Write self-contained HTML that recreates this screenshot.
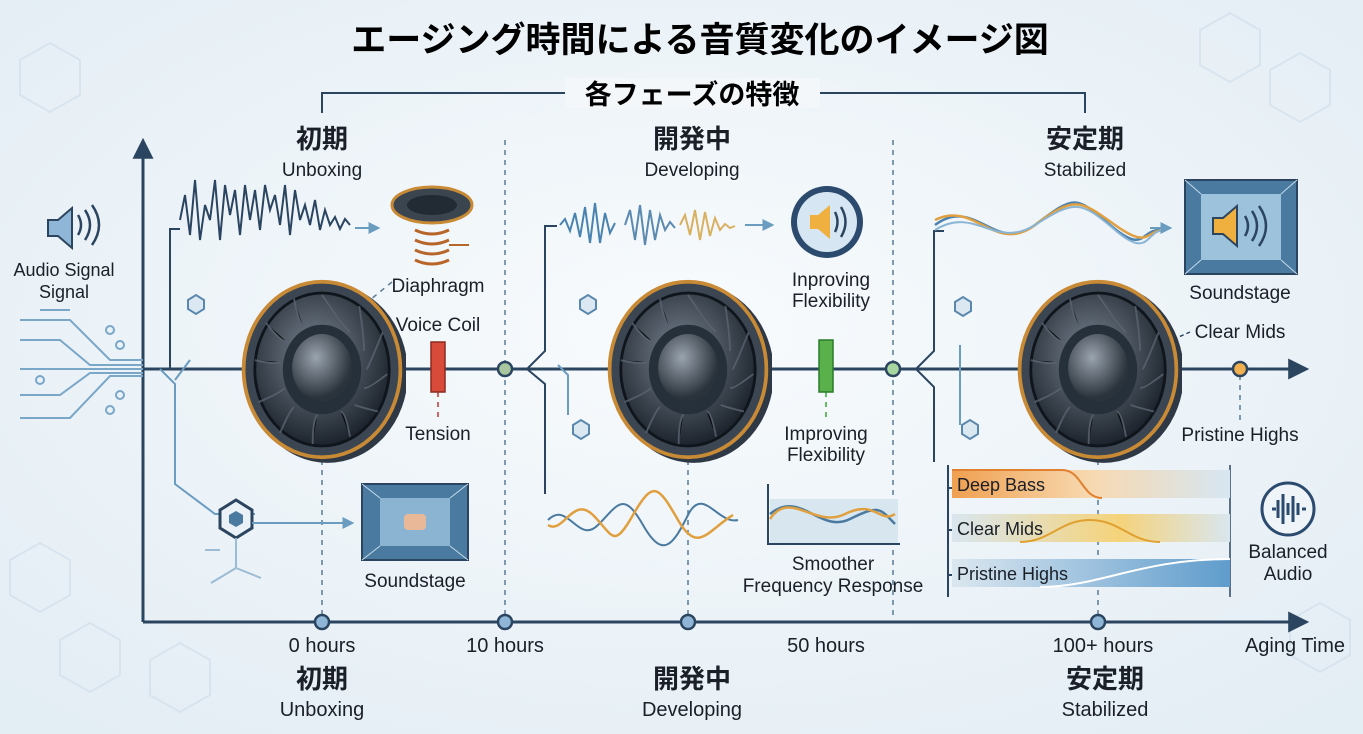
<!DOCTYPE html>
<html><head><meta charset="utf-8"><style>
html,body{margin:0;padding:0;width:1363px;height:734px;overflow:hidden;background:#eef4f8}
svg{display:block}
text{font-family:"Liberation Sans","Noto Sans CJK JP",sans-serif;fill:#1a1f28}
.j{font-weight:bold;font-size:26px}
.s{font-size:19px}
.t{font-size:19px;text-anchor:middle}
</style></head><body>
<svg width="1363" height="734" viewBox="0 0 1363 734" xmlns="http://www.w3.org/2000/svg">
<defs>
<radialGradient id="bg" cx="50%" cy="45%" r="70%"><stop offset="0" stop-color="#f8fbfd"/><stop offset="1" stop-color="#e3edf4"/></radialGradient>
<radialGradient id="cone" cx="45%" cy="40%" r="60%"><stop offset="0" stop-color="#7a8592"/><stop offset="1" stop-color="#1c232c"/></radialGradient>
<radialGradient id="cap" cx="40%" cy="35%" r="60%"><stop offset="0" stop-color="#9aa4ae"/><stop offset="1" stop-color="#2a323b"/></radialGradient>
<linearGradient id="b1" x1="0" x2="1"><stop offset="0" stop-color="#f0a050"/><stop offset=".5" stop-color="#f7d9b0"/><stop offset="1" stop-color="#d6e6f2"/></linearGradient>
<linearGradient id="b2" x1="0" x2="1"><stop offset="0" stop-color="#d9e6ef"/><stop offset=".6" stop-color="#f5d37a"/><stop offset="1" stop-color="#d9e6ef"/></linearGradient>
<linearGradient id="b3" x1="0" x2="1"><stop offset="0" stop-color="#dbe7f0"/><stop offset="1" stop-color="#5f9ccc"/></linearGradient>
<marker id="ar" viewBox="0 0 10 10" refX="8" refY="5" markerWidth="7" markerHeight="7" orient="auto"><path d="M0,0L10,5L0,10z" fill="#2b4560"/></marker>
<marker id="ar2" viewBox="0 0 10 10" refX="8" refY="5" markerWidth="6" markerHeight="6" orient="auto"><path d="M0,0L10,5L0,10z" fill="#6a9cc0"/></marker>
<symbol id="spk" viewBox="-90 -100 180 200">
<ellipse cx="6" cy="4" rx="86" ry="96" fill="#2e3945"/>
<ellipse cx="0" cy="0" rx="84" ry="94" fill="#3b4652" stroke="#c98a35" stroke-width="4"/>
<ellipse cx="0" cy="0" rx="72" ry="82" fill="url(#cone)" stroke="#0f151b" stroke-width="3"/>
<g stroke="#5a6572" stroke-width="2" opacity=".8">
<path d="M0,-80Q20,-50 30,-40M40,-68Q45,-35 45,-20M65,-40Q55,-15 48,0M70,5Q50,20 45,20M60,45Q40,40 35,38M30,72Q25,45 20,45M-10,80Q-10,55 -5,48M-45,68Q-35,45 -30,40M-68,35Q-45,25 -40,20M-72,-10Q-50,-5 -45,-8M-60,-50Q-45,-30 -38,-30M-30,-76Q-25,-50 -20,-45"/>
</g>
<ellipse cx="0" cy="0" rx="42" ry="48" fill="#26303a"/>
<ellipse cx="0" cy="-2" rx="32" ry="36" fill="url(#cap)"/>
</symbol>
</defs>
<rect width="1363" height="734" fill="url(#bg)"/>
<g fill="none" stroke="#d3e1ec" stroke-width="2" opacity=".8">
<path d="M20,60l30,-17l30,17v35l-30,17l-30,-17z M1200,30l30,-17l30,17v35l-30,17l-30,-17z M1270,70l30,-17l30,17v35l-30,17l-30,-17z M1290,620l30,-17l30,17v35l-30,17l-30,-17z M10,560l30,-17l30,17v35l-30,17l-30,-17z M60,640l30,-17l30,17v35l-30,17l-30,-17z M150,660l30,-17l30,17v35l-30,17l-30,-17z"/>
</g>
<text x="700" y="52" text-anchor="middle" style="font-weight:bold;font-size:35px;fill:#000">エージング時間による音質変化のイメージ図</text>
<path d="M322,113V93H1085V113" fill="none" stroke="#2b4560" stroke-width="2"/>
<rect x="565" y="78" width="255" height="30" fill="#f3f7fa"/>
<text x="692" y="104" text-anchor="middle" style="font-weight:bold;font-size:27px;fill:#000">各フェーズの特徴</text>
<text x="322" y="148" class="j" text-anchor="middle">初期</text><text x="322" y="176" class="t">Unboxing</text>
<text x="692" y="148" class="j" text-anchor="middle">開発中</text><text x="692" y="176" class="t">Developing</text>
<text x="1085" y="148" class="j" text-anchor="middle">安定期</text><text x="1085" y="176" class="t">Stabilized</text>
<line x1="143" y1="622" x2="143" y2="142" stroke="#2b4560" stroke-width="3" marker-end="url(#ar)"/>
<line x1="143" y1="622" x2="1305" y2="622" stroke="#2b4560" stroke-width="3" marker-end="url(#ar)"/>
<line x1="143" y1="369" x2="1305" y2="369" stroke="#2b4560" stroke-width="3" marker-end="url(#ar)"/>
<g stroke="#5a7a94" stroke-width="1.5" stroke-dasharray="5,5">
<line x1="505" y1="140" x2="505" y2="620"/><line x1="893" y1="140" x2="893" y2="620"/>
<line x1="322" y1="430" x2="322" y2="615"/><line x1="688" y1="430" x2="688" y2="615"/><line x1="1098" y1="430" x2="1098" y2="615"/>
<line x1="1240" y1="375" x2="1240" y2="420"/>
<line x1="438" y1="392" x2="438" y2="420" stroke="#c33"/><line x1="826" y1="392" x2="826" y2="420" stroke="#3a3"/>
<line x1="392" y1="282" x2="370" y2="300"/>
</g>
<g transform="translate(48,210)"><path d="M0,10h10l14,-12v40l-14,-12h-10z" fill="#8fb6d6" stroke="#2b4560" stroke-width="2"/><path d="M30,5q6,10 0,20M37,0q10,15 0,30M44,-5q14,20 0,40" fill="none" stroke="#2b4560" stroke-width="2.5"/></g>
<text x="64" y="276" text-anchor="middle" class="s" style="font-size:18px">Audio Signal</text>
<text x="64" y="298" text-anchor="middle" class="s" style="font-size:18px">Signal</text>
<g fill="none" stroke="#7aa6c8" stroke-width="2">
<path d="M20,320h50l40,40h33M20,340h40l30,25h53M20,369h123M20,395h40l30,-22h53M20,418h50l40,-42h33M40,310h30"/>
<circle cx="110" cy="330" r="4"/><circle cx="120" cy="345" r="4"/><circle cx="120" cy="395" r="4"/><circle cx="110" cy="410" r="4"/><circle cx="40" cy="380" r="4"/>
</g>
<path d="M170,369v-140h10" fill="none" stroke="#2b4560" stroke-width="2"/>
<path d="M180,220l5,-25l5,40l5,-55l5,60l5,-35l5,15l5,-40l5,60l5,-55l5,30l5,-25l5,45l5,-50l5,35l5,-30l5,40l5,-45l5,25l5,-15l5,30l5,-40l5,50l5,-45l5,30l5,-15l5,20l5,-25l5,30l5,-20l5,15l5,-8l5,12l5,-10l5,6" fill="none" stroke="#2b4560" stroke-width="2"/>
<line x1="355" y1="228" x2="378" y2="228" stroke="#6a9cc0" stroke-width="2" marker-end="url(#ar2)"/>
<path d="M160,369l15,15v100l40,30h40M175,380l15,-20" fill="none" stroke="#6a9cc0" stroke-width="2"/>
<path d="M188,300l8,-5l8,5v9l-8,5l-8,-5z" fill="#dbe8f2" stroke="#5a88ad" stroke-width="2"/>
<path d="M220,510l16,-10l16,10v18l-16,10l-16,-10z" fill="#eaf2f8" stroke="#2b4560" stroke-width="3"/><path d="M229,515l7,-4l7,4v8l-7,4l-7,-4z" fill="#4a7aa0"/>
<path d="M252,523h100" stroke="#6a9cc0" stroke-width="2" marker-end="url(#ar2)"/>
<path d="M236,538v30l-25,15M236,568l25,10M205,550h15" fill="none" stroke="#9bbcd4" stroke-width="2"/>
<ellipse cx="432" cy="205" rx="40" ry="18" fill="#3a4550" stroke="#c98a35" stroke-width="3"/><ellipse cx="432" cy="205" rx="25" ry="10" fill="#222a33"/>
<g fill="none" stroke="#b8652a" stroke-width="3"><path d="M415,230q17,8 34,0M415,240q17,8 34,0M415,250q17,8 34,0M415,260q17,8 34,0"/></g>
<path d="M449,245h20" stroke="#b8652a" stroke-width="2"/>
<text x="438" y="292" class="t">Diaphragm</text>
<text x="438" y="331" class="t">Voice Coil</text>
<rect x="431" y="342" width="14" height="50" fill="#d84a3a" stroke="#8b2a20" stroke-width="1.5"/>
<text x="438" y="440" class="t">Tension</text>
<g transform="translate(362,484)"><rect width="106" height="76" fill="#4a7aa0" stroke="#2b4560" stroke-width="2"/><rect x="18" y="14" width="70" height="48" fill="#8bb4d2"/><path d="M0,0L18,14M106,0L88,14M0,76L18,62M106,76L88,62" stroke="#c5dbea"/><rect x="42" y="30" width="22" height="16" rx="4" fill="#e8b898"/></g>
<text x="415" y="587" class="t">Soundstage</text>
<use href="#spk" x="238" y="276" width="168" height="187"/>
<path d="M527,369l18,-18v-125h12M527,369l18,15v110" fill="none" stroke="#2b4560" stroke-width="2"/>
<g stroke-width="2" fill="none">
<path d="M560,225l5,-6l5,12l5,-18l5,24l5,-30l5,36l5,-40l5,40l5,-30l5,20l5,-10" stroke="#4a82b0"/>
<path d="M625,225l5,-15l5,30l5,-35l5,40l5,-35l5,30l5,-25l5,15l5,-8l5,6" stroke="#5a8ab0"/>
<path d="M680,225l5,-10l5,20l5,-25l5,30l5,-28l5,24l5,-18l5,12l5,-6l5,4l5,-2" stroke="#d8b060"/>
</g>
<line x1="745" y1="225" x2="772" y2="225" stroke="#6a9cc0" stroke-width="2" marker-end="url(#ar2)"/>
<path d="M580,300l8,-5l8,5v9l-8,5l-8,-5zM573,425l8,-5l8,5v9l-8,5l-8,-5z" fill="#dbe8f2" stroke="#5a88ad" stroke-width="2"/>
<path d="M558,365l10,10v40" fill="none" stroke="#6a9cc0" stroke-width="2"/>
<path d="M548,520c20,-20 30,25 50,5s25,-35 45,0s30,20 45,-10s30,10 50,5" fill="none" stroke="#4a7aa0" stroke-width="2"/>
<path d="M548,525c15,10 25,-30 45,-10s20,35 40,0s25,-30 45,5s30,10 55,-5" fill="none" stroke="#e0a040" stroke-width="2.5"/>
<circle cx="827" cy="222" r="36" fill="#2b4a6e"/><circle cx="827" cy="222" r="30" fill="#d6e6f2"/>
<path d="M810,215h8l12,-10v34l-12,-10h-8z" fill="#f0b040"/><path d="M835,212q5,10 0,20M841,207q9,15 0,30" fill="none" stroke="#2b4560" stroke-width="2.5"/>
<text x="831" y="286" class="t">Inproving</text><text x="831" y="307" class="t">Flexibility</text>
<rect x="819" y="340" width="14" height="52" fill="#5ab04a" stroke="#2a7a2a" stroke-width="1.5"/>
<text x="826" y="440" class="t">Improving</text><text x="826" y="461" class="t">Flexibility</text>
<g transform="translate(768,484)"><path d="M0,0v60h132" fill="none" stroke="#2b4560" stroke-width="2"/><rect x="2" y="15" width="128" height="44" fill="#d8e6f0"/><path d="M2,30c30,-25 50,20 80,5s30,-10 45,5" fill="none" stroke="#4a7aa0" stroke-width="2.5"/><path d="M2,35c20,-30 45,10 75,-5s35,10 50,0" fill="none" stroke="#e0a040" stroke-width="2.5"/></g>
<text x="833" y="570" class="t">Smoother</text><text x="833" y="592" class="t">Frequency Response</text>
<use href="#spk" x="604" y="276" width="168" height="187"/>
<path d="M916,369l18,-18v-120h10M916,369l18,18v75" fill="none" stroke="#2b4560" stroke-width="2"/>
<path d="M935,225c40,-30 60,30 100,0s40,-30 75,0s30,5 50,5" fill="none" stroke="#4a82b0" stroke-width="2.5"/>
<path d="M935,220c40,-20 60,35 100,5s45,-25 80,0s30,5 50,5" fill="none" stroke="#e0a040" stroke-width="2.5"/>
<path d="M935,230c40,-25 60,20 100,-5s45,-25 80,5s30,0 50,0" fill="none" stroke="#8ab4d4" stroke-width="2"/>
<line x1="1150" y1="228" x2="1170" y2="228" stroke="#6a9cc0" stroke-width="2" marker-end="url(#ar2)"/>
<path d="M955,302l8,-5l8,5v9l-8,5l-8,-5zM962,425l8,-5l8,5v9l-8,5l-8,-5z" fill="#dbe8f2" stroke="#5a88ad" stroke-width="2"/>
<path d="M960,345v80" fill="none" stroke="#6a9cc0" stroke-width="2"/>
<g transform="translate(1185,180)"><rect width="112" height="94" fill="#4a7aa0" stroke="#2b4560" stroke-width="2"/><rect x="16" y="14" width="80" height="66" fill="#9cc2dc"/><path d="M0,0L16,14M112,0L96,14M0,94L16,80M112,94L96,80" stroke="#c5dbea"/><path d="M28,38h10l14,-12v40l-14,-12h-10z" fill="#f0b040" stroke="#2b4560" stroke-width="2"/><path d="M60,36q6,10 0,20M67,31q10,15 0,30M74,26q14,20 0,40" fill="none" stroke="#2b4560" stroke-width="2.5"/></g>
<text x="1240" y="299" class="t">Soundstage</text>
<text x="1240" y="338" class="t">Clear Mids</text>
<path d="M1190,332l-18,8" stroke="#2b4560" stroke-width="1.5" stroke-dasharray="4,3"/>
<text x="1240" y="441" class="t">Pristine Highs</text>
<path d="M948,465v132M948,488h8M948,530h8M948,575h8" fill="none" stroke="#2b4560" stroke-width="2"/>
<line x1="1230" y1="465" x2="1230" y2="597" stroke="#2b4560" stroke-width="1.5"/>
<rect x="952" y="470" width="278" height="28" fill="url(#b1)"/>
<rect x="952" y="514" width="278" height="28" fill="url(#b2)"/>
<rect x="952" y="559" width="278" height="28" fill="url(#b3)"/>
<path d="M952,470h110c20,0 20,28 40,28" fill="none" stroke="#e08030" stroke-width="2"/>
<path d="M1020,542c30,0 40,-22 70,-22s40,22 70,22" fill="none" stroke="#e0a030" stroke-width="2"/>
<path d="M1040,587c60,0 100,-28 190,-28" fill="none" stroke="#fff" stroke-width="2"/>
<text x="957" y="491" class="s" style="font-size:18px">Deep Bass</text>
<text x="957" y="535" class="s" style="font-size:18px">Clear Mids</text>
<text x="957" y="580" class="s" style="font-size:18px">Pristine Highs</text>
<circle cx="1288" cy="509" r="26" fill="#eef4f8" stroke="#2b4a6e" stroke-width="3"/>
<path d="M1272,509h4M1278,500v18M1283,494v30M1288,503v12M1293,496v26M1298,503v12M1302,509h4" stroke="#2b4a6e" stroke-width="3"/>
<text x="1288" y="558" class="t">Balanced</text><text x="1288" y="580" class="t">Audio</text>
<use href="#spk" x="1014" y="276" width="168" height="187"/>
<g stroke="#2b4560" stroke-width="2.5">
<circle cx="505" cy="369" r="7" fill="#a8c6a0"/><circle cx="893" cy="369" r="7" fill="#a8d6a0"/><circle cx="1240" cy="369" r="7" fill="#f0b050"/>
<circle cx="322" cy="622" r="7" fill="#8fb6d6"/><circle cx="505" cy="622" r="7" fill="#8fb6d6"/><circle cx="688" cy="622" r="7" fill="#8fb6d6"/><circle cx="1098" cy="622" r="7" fill="#8fb6d6"/>
</g>
<text x="322" y="652" class="t" style="font-size:20px">0 hours</text>
<text x="505" y="652" class="t" style="font-size:20px">10 hours</text>
<text x="826" y="652" class="t" style="font-size:20px">50 hours</text>
<text x="1103" y="652" class="t" style="font-size:20px">100+ hours</text>
<text x="1295" y="652" class="t" style="font-size:20px">Aging Time</text>
<text x="322" y="688" class="j" text-anchor="middle">初期</text><text x="322" y="716" class="t" style="font-size:20px">Unboxing</text>
<text x="692" y="688" class="j" text-anchor="middle">開発中</text><text x="692" y="716" class="t" style="font-size:20px">Developing</text>
<text x="1105" y="688" class="j" text-anchor="middle">安定期</text><text x="1105" y="716" class="t" style="font-size:20px">Stabilized</text>
</svg>
</body></html>
